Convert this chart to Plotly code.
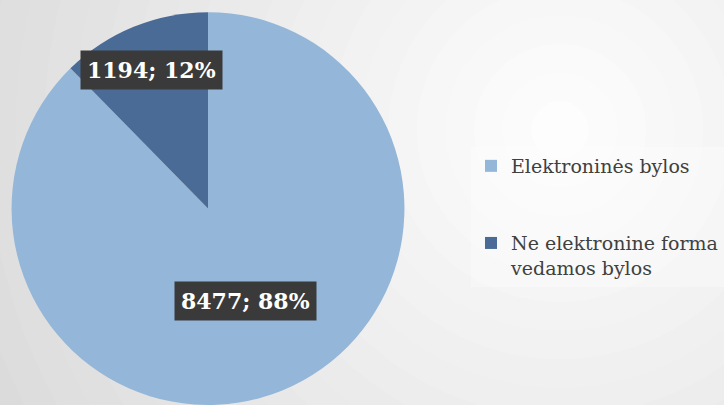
import numpy as np
import plotly.graph_objects as go

# data
labels = ["Elektroninės bylos", "Ne elektronine forma<br>vedamos bylos"]
values = [8477, 1194]
colors = ["#93b6d9", "#4a6b95"]

W, H = 724, 405
dom_x = [10 / W, 406 / W]
dom_y = [0.0, 0.97]
SERIF = "DejaVu Serif"

fig = go.Figure()

# background radial gradient (light centre at upper right)
gx, gy = 560 / W, 1 - 130 / H
steps = 30
for i in range(steps):
    k = 1 - i / steps
    rx, ry = 0.95 * k * 1.25, 0.95 * k * 1.25 * W / H
    g = int(255 - 48 * k)
    fig.add_shape(type="circle", xref="paper", yref="paper",
                  x0=gx - rx, x1=gx + rx, y0=gy - ry, y1=gy + ry,
                  fillcolor=f"rgb({g},{g},{g})", line_width=0, layer="below")

# extra blank lines give the wide gap between legend entries
legend_names = [labels[0] + "<br> <br> ", labels[1]]

fig.add_trace(go.Pie(
    labels=legend_names,
    values=values,
    marker=dict(colors=colors, line=dict(width=0)),
    sort=False,
    direction="clockwise",
    rotation=0,
    textinfo="none",
    hoverinfo="value+percent",
    domain=dict(x=dom_x, y=dom_y),
))

# data labels with dark boxes, placed from slice mid angles
total = sum(values)
cx = (dom_x[0] + dom_x[1]) / 2 * W
cy = (dom_y[0] + dom_y[1]) / 2 * H
R = min((dom_x[1] - dom_x[0]) * W, (dom_y[1] - dom_y[0]) * H) / 2
label_r = [0.51, 0.76]
cum = 0
for v, fr in zip(values, label_r):
    mid = (cum + v / 2) / total * 2 * np.pi
    cum += v
    px = cx + fr * R * np.sin(mid)
    py = cy + fr * R * np.cos(mid)
    txt = f"<b>{v}; {round(v / total * 100)}%</b>"
    fig.add_annotation(x=px / W, y=py / H, xref="paper", yref="paper",
                       xanchor="center", yanchor="middle",
                       text=txt, showarrow=False,
                       font=dict(family=SERIF, size=22, color="white"),
                       bgcolor="#3a3a3a", borderpad=6)

fig.update_layout(
    width=W, height=H,
    margin=dict(l=0, r=0, t=0, b=0),
    paper_bgcolor="#d8d8d8",
    plot_bgcolor="rgba(0,0,0,0)",
    showlegend=True,
    legend=dict(
        x=1, y=1 - 147 / H, xanchor="right", yanchor="top",
        font=dict(family=SERIF, size=19, color="#404040"),
        bgcolor="rgba(255,255,255,0.3)",
        valign="top",
    ),
)

fig.write_html("out.html", config={"displayModeBar": False},
               post_script="document.body.style.margin='0';")
